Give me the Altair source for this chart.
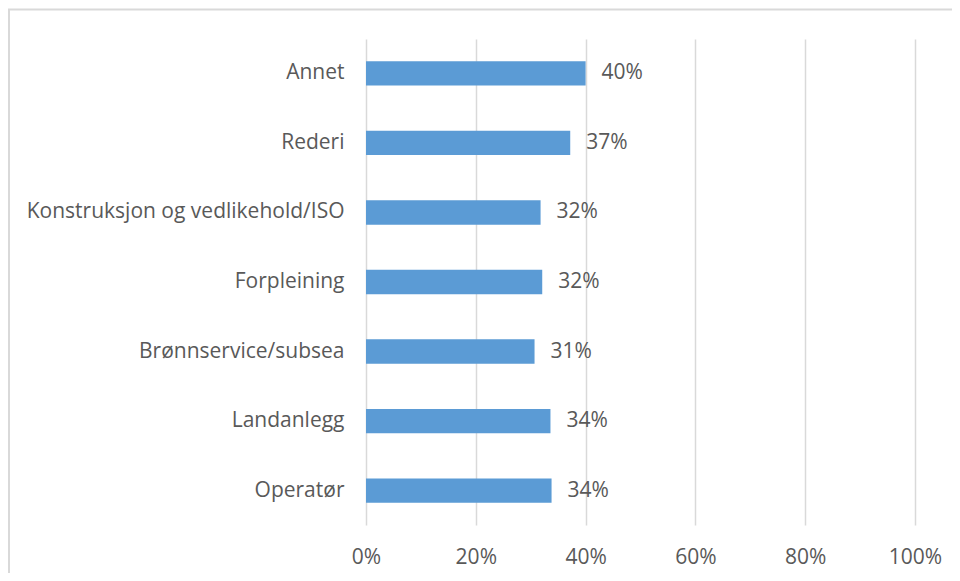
import altair as alt
import pandas as pd

categories = ["Annet", "Rederi", "Konstruksjon og vedlikehold/ISO", "Forpleining",
              "Brønnservice/subsea", "Landanlegg", "Operatør"]
values = [0.40, 0.372, 0.318, 0.321, 0.307, 0.336, 0.338]
labels = ["40%", "37%", "32%", "32%", "31%", "34%", "34%"]

df = pd.DataFrame({"cat": categories, "val": values, "lab": labels})

FONT = "Open Sans"
TXT = "#595959"
FS = 21

y_enc = alt.Y("cat:N", sort=categories, title=None,
              scale=alt.Scale(paddingInner=0.65, paddingOuter=0.32),
              axis=alt.Axis(domain=False, ticks=False, labelFontSize=FS, labelFont=FONT,
                            labelColor=TXT, labelPadding=22, grid=False, labelLimit=400))
x_enc = alt.X("val:Q", title=None, scale=alt.Scale(domain=[0, 1], nice=False),
              axis=alt.Axis(format=".0%", values=[0, 0.2, 0.4, 0.6, 0.8, 1.0],
                            domain=False, ticks=False, labelFontSize=FS, labelFont=FONT,
                            labelColor=TXT, labelPadding=21, labelFlush=False,
                            labelOverlap=False, grid=True,
                            gridColor="#D9D9D9", gridWidth=1.5))

bars = alt.Chart(df).mark_bar(color="#5B9BD5").encode(x=x_enc, y=y_enc)
text = alt.Chart(df).mark_text(align="left", baseline="middle", dx=16, fontSize=FS,
                               font=FONT, color=TXT).encode(
    x="val:Q", y=alt.Y("cat:N", sort=categories), text="lab:N")

border = alt.Chart(pd.DataFrame({"a": [0]})).mark_rect(
    fill=None, stroke="#D9D9D9", strokeWidth=2).encode(
    x=alt.value(-357), x2=alt.value(700), y=alt.value(-29.5), y2=alt.value(700))

chart = alt.layer(bars, text, border).properties(
    width=549, height=486,
    autosize=alt.AutoSizeParams(type="none"),
    padding={"left": 358, "top": 31, "right": 37, "bottom": 48},
).configure(background="white").configure_view(stroke=None)

chart.save("out.html", embed_options={"renderer": "svg", "actions": False})
